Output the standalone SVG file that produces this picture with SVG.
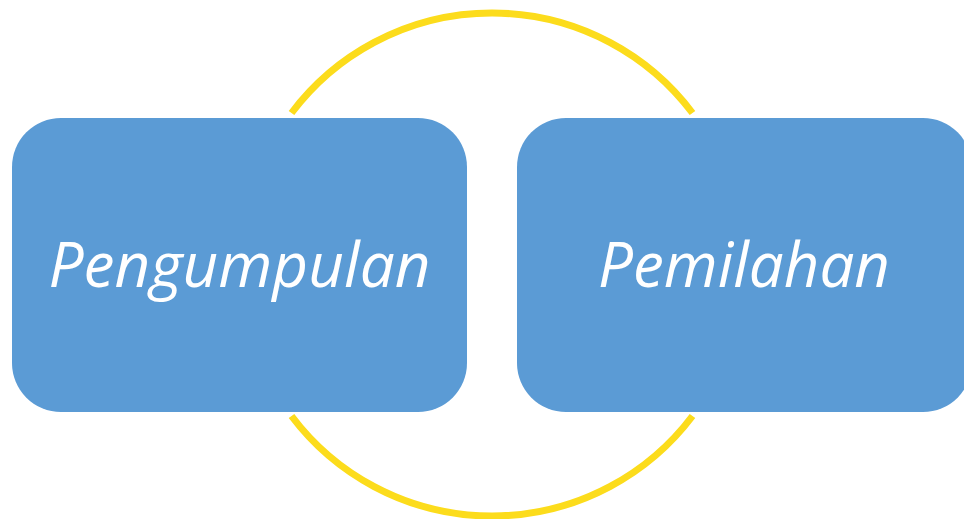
<svg xmlns="http://www.w3.org/2000/svg" width="964" height="519" viewBox="0 0 964 519">
<style>
.node{fill:#5B9BD5}
.lbl{fill:#FFFFFF;font-family:"Open Sans","Liberation Sans",sans-serif;font-style:italic;font-size:62px;text-anchor:middle}
.arc{fill:none;stroke:#FCDC1C;stroke-width:7;stroke-linecap:butt}
</style>
<rect width="964" height="519" fill="#FFFFFF"/>
<g id="connectors">
<path class="arc" d="M291.5 113 A251 251 0 0 1 692.5 113"/>
<path class="arc" d="M692.5 416 A251 251 0 0 1 291.5 416"/>
</g>
<g id="node-pengumpulan">
<rect class="node" x="12" y="118" width="455" height="294" rx="49" ry="49"/>
<text class="lbl" x="239.5" y="287" textLength="382" lengthAdjust="spacingAndGlyphs">Pengumpulan</text>
</g>
<g id="node-pemilahan">
<rect class="node" x="517" y="118" width="455" height="294" rx="49" ry="49"/>
<text class="lbl" x="744" y="287" textLength="292" lengthAdjust="spacingAndGlyphs">Pemilahan</text>
</g>
</svg>
